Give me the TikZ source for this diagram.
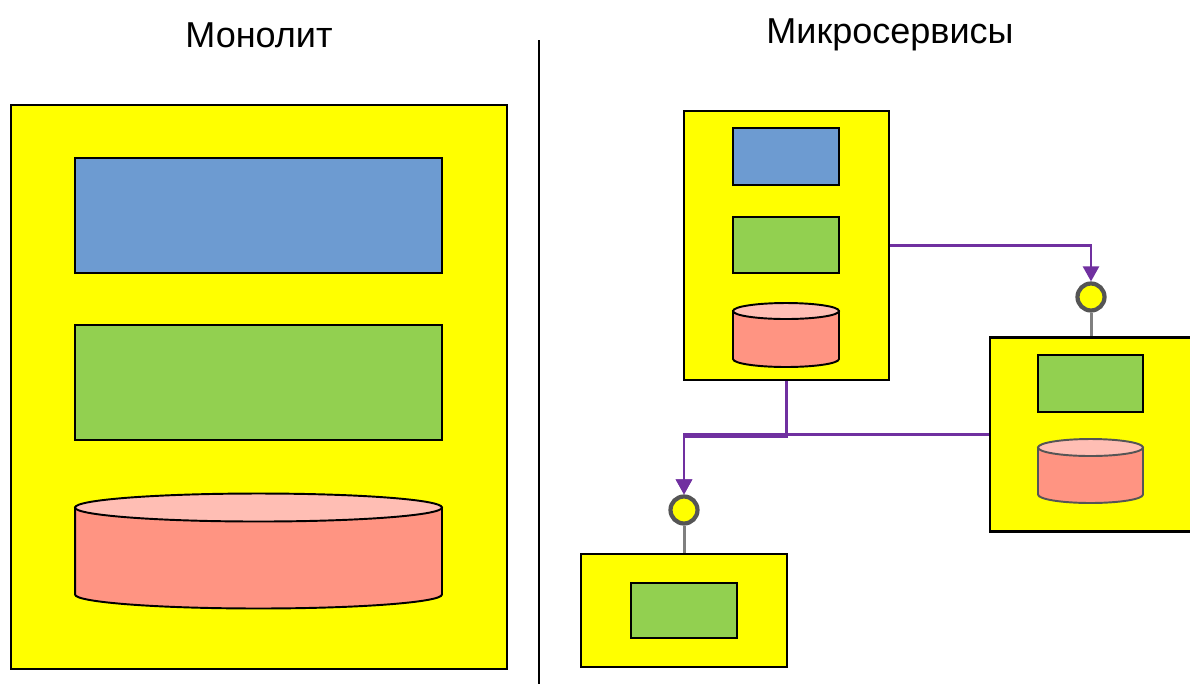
\documentclass[tikz,border=0pt]{standalone}
\usepackage{fontspec}
\setmainfont{Liberation Sans}
\usetikzlibrary{arrows.meta,positioning,calc}
\definecolor{boxyellow}{RGB}{255,255,0}
\definecolor{modblue}{RGB}{109,155,209}
\definecolor{modgreen}{RGB}{146,208,80}
\definecolor{dbbody}{RGB}{255,148,130}
\definecolor{dbtop}{RGB}{255,190,180}
\definecolor{linkpurple}{RGB}{112,48,160}
\definecolor{ifgray}{RGB}{85,85,85}
\definecolor{stemgray}{RGB}{128,128,128}

% cylinder drawn inside the box of node #1: x radius #2, y radius #3, border #4
\newcommand{\dbshape}[4]{%
  \filldraw[line width=1.1pt, draw=#4, fill=dbbody]
    ([yshift=-#3]#1.north west) -- ([yshift=#3]#1.south west)
    arc[start angle=180, end angle=360, x radius=#2, y radius=#3]
    -- ([yshift=-#3]#1.north east) -- cycle;
  \filldraw[line width=1.1pt, draw=#4, fill=dbtop]
    ([yshift=-#3]#1.north) ellipse[x radius=#2, y radius=#3];
}

\begin{document}
\begin{tikzpicture}[x=0.02cm, y=-0.02cm,
    svc/.style={draw, fill=boxyellow, line width=1.2pt, inner sep=0pt},
    mod/.style={draw, line width=1.1pt, inner sep=0pt},
    dbspace/.style={inner sep=0pt, outer sep=0pt},
    iface/.style={circle, draw=ifgray, fill=boxyellow, line width=2.4pt,
                  minimum size=0.54cm, inner sep=0pt},
    stem/.style={draw=stemgray, line width=1.7pt},
    link/.style={draw=linkpurple, line width=1.4pt,
                 -{Triangle[length=0.3cm, width=0.32cm]}},
    title/.style={font=\fontsize{20.5}{24}\selectfont}
]
    \useasboundingbox (0,0) rectangle (1190,684);

    % titles and divider
    \node[title] (tmono) at (259,35) {Монолит};
    \node[title] (tmicro) at (890,35) {Микросервисы};
    \coordinate (divtop) at (539,40);
    \coordinate (divbot) at (539,684);
    \draw[line width=0.6pt] (divtop) -- (divbot);

    % monolith
    \node[svc, minimum width=9.92cm, minimum height=11.28cm] (mono) at (259,387) {};
    \node[mod, fill=modblue,  minimum width=7.34cm, minimum height=2.3cm] (mblue)  at (258.5,215.5) {};
    \node[mod, fill=modgreen, minimum width=7.34cm, minimum height=2.3cm] (mgreen) at (258.5,382.5) {};
    \node[dbspace, minimum width=7.34cm, minimum height=2.3cm] (mdb) at (258.5,551) {};
    \dbshape{mdb}{3.67cm}{0.28cm}{black}

    % service 1
    \node[svc, minimum width=4.1cm, minimum height=5.38cm] (ms1) at (786.5,245.5) {};
    \node[mod, fill=modblue,  minimum width=2.12cm, minimum height=1.14cm] (ms1blue)  at (786,156.5) {};
    \node[mod, fill=modgreen, minimum width=2.12cm, minimum height=1.12cm] (ms1green) at (786,245) {};
    \node[dbspace, minimum width=2.12cm, minimum height=1.28cm] (ms1db) at (786,335) {};
    \dbshape{ms1db}{1.06cm}{0.16cm}{black}

    % service 2
    \node[svc, minimum width=4.1cm, minimum height=3.88cm] (ms2) at (1092.5,434.5) {};
    \node[mod, fill=modgreen, minimum width=2.1cm, minimum height=1.14cm] (ms2green) at (1090.5,383.5) {};
    \node[dbspace, minimum width=2.1cm, minimum height=1.28cm] (ms2db) at (1090.5,471) {};
    \dbshape{ms2db}{1.05cm}{0.17cm}{ifgray}
    \node[iface] (if2) at (1091,297) {};
    \draw[stem] (if2.south) -- (if2.south |- ms2.north);

    % service 3
    \node[svc, minimum width=4.12cm, minimum height=2.26cm] (ms3) at (684,610.5) {};
    \node[mod, fill=modgreen, minimum width=2.12cm, minimum height=1.1cm] (ms3green) at (684,610.5) {};
    \node[iface] (if3) at (684,510) {};
    \draw[stem] (if3.south) -- (if3.south |- ms3.north);

    % calls
    \draw[link] (ms1.east) -| (if2.north);
    \draw[link] (ms1.south) -- ++(0,56) -| (if3.north);
    \draw[link] (ms2.west) -| (if3.north);
\end{tikzpicture}
\end{document}
